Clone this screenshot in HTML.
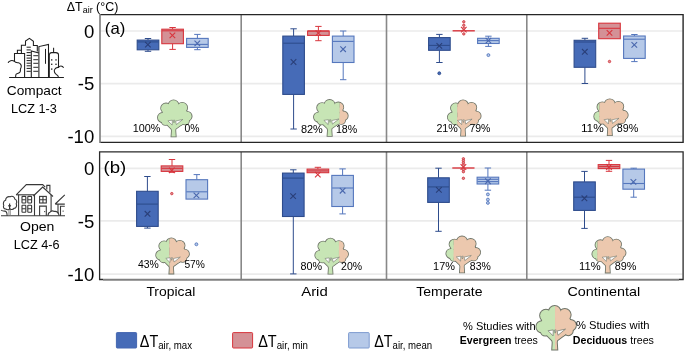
<!DOCTYPE html>
<html><head><meta charset="utf-8"><title>Delta T air chart</title>
<style>html,body{margin:0;padding:0;background:#fff;width:685px;height:351px;overflow:hidden}svg{display:block;will-change:transform}</style>
</head><body>
<svg width="685" height="351" viewBox="0 0 685 351" font-family='"Liberation Sans", sans-serif'>
<rect width="685" height="351" fill="#fff"/>
<line x1="100.5" y1="31.0" x2="682.5" y2="31.0" stroke="#EBEBEB" stroke-width="1.7"/>
<line x1="100.5" y1="83.6" x2="682.5" y2="83.6" stroke="#EBEBEB" stroke-width="1.7"/>
<line x1="100.5" y1="136.4" x2="682.5" y2="136.4" stroke="#EBEBEB" stroke-width="1.7"/>
<line x1="100.5" y1="168.3" x2="682.5" y2="168.3" stroke="#EBEBEB" stroke-width="1.7"/>
<line x1="100.5" y1="220.9" x2="682.5" y2="220.9" stroke="#EBEBEB" stroke-width="1.7"/>
<line x1="100.5" y1="274.2" x2="682.5" y2="274.2" stroke="#EBEBEB" stroke-width="1.7"/>
<line x1="241.2" y1="14.5" x2="241.2" y2="142.3" stroke="#888" stroke-width="1.6"/>
<line x1="241.2" y1="152" x2="241.2" y2="279.5" stroke="#888" stroke-width="1.6"/>
<line x1="386.5" y1="14.5" x2="386.5" y2="142.3" stroke="#888" stroke-width="1.6"/>
<line x1="386.5" y1="152" x2="386.5" y2="279.5" stroke="#888" stroke-width="1.6"/>
<line x1="526.8" y1="14.5" x2="526.8" y2="142.3" stroke="#888" stroke-width="1.6"/>
<line x1="526.8" y1="152" x2="526.8" y2="279.5" stroke="#888" stroke-width="1.6"/>
<line x1="148.0" y1="40.1" x2="148.0" y2="38.5" stroke="#2E4C8C" stroke-width="1"/>
<line x1="144.8" y1="38.5" x2="151.2" y2="38.5" stroke="#2E4C8C" stroke-width="1"/>
<line x1="148.0" y1="49.8" x2="148.0" y2="51.3" stroke="#2E4C8C" stroke-width="1"/>
<line x1="144.8" y1="51.3" x2="151.2" y2="51.3" stroke="#2E4C8C" stroke-width="1"/>
<rect x="137.20" y="40.1" width="21.60" height="9.70" fill="#466BB7" stroke="#2E4C8C" stroke-width="1.1"/>
<line x1="137.50" y1="41.9" x2="158.50" y2="41.9" stroke="#2E4C8C" stroke-width="1.1"/>
<path d="M145.10 41.80L150.70 47.40M145.10 47.40L150.70 41.80" stroke="#2A3F78" stroke-width="1.1" fill="none"/>
<line x1="172.6" y1="29.2" x2="172.6" y2="27.5" stroke="#D8353D" stroke-width="1"/>
<line x1="169.4" y1="27.5" x2="175.79999999999998" y2="27.5" stroke="#D8353D" stroke-width="1"/>
<line x1="172.6" y1="43.7" x2="172.6" y2="49.4" stroke="#D8353D" stroke-width="1"/>
<line x1="169.4" y1="49.4" x2="175.79999999999998" y2="49.4" stroke="#D8353D" stroke-width="1"/>
<rect x="161.80" y="29.2" width="21.60" height="14.50" fill="#D49196" stroke="#D8353D" stroke-width="1.1"/>
<line x1="162.10" y1="30.8" x2="183.10" y2="30.8" stroke="#D8353D" stroke-width="1.1"/>
<path d="M169.60 32.60L175.20 38.20M169.60 38.20L175.20 32.60" stroke="#D8353D" stroke-width="1.1" fill="none"/>
<line x1="197.4" y1="38.4" x2="197.4" y2="34.4" stroke="#5577BD" stroke-width="1"/>
<line x1="194.20000000000002" y1="34.4" x2="200.6" y2="34.4" stroke="#5577BD" stroke-width="1"/>
<line x1="197.4" y1="47.4" x2="197.4" y2="49.7" stroke="#5577BD" stroke-width="1"/>
<line x1="194.20000000000002" y1="49.7" x2="200.6" y2="49.7" stroke="#5577BD" stroke-width="1"/>
<rect x="186.60" y="38.4" width="21.60" height="9.00" fill="#B6C9E8" stroke="#5577BD" stroke-width="1.1"/>
<line x1="186.90" y1="44.4" x2="207.90" y2="44.4" stroke="#5577BD" stroke-width="1.1"/>
<path d="M194.50 40.60L200.10 46.20M194.50 46.20L200.10 40.60" stroke="#4A68AE" stroke-width="1.1" fill="none"/>
<line x1="293.6" y1="36.1" x2="293.6" y2="28.8" stroke="#2E4C8C" stroke-width="1"/>
<line x1="290.40000000000003" y1="28.8" x2="296.8" y2="28.8" stroke="#2E4C8C" stroke-width="1"/>
<line x1="293.6" y1="94.4" x2="293.6" y2="129.0" stroke="#2E4C8C" stroke-width="1"/>
<line x1="290.40000000000003" y1="129.0" x2="296.8" y2="129.0" stroke="#2E4C8C" stroke-width="1"/>
<rect x="282.80" y="36.1" width="21.60" height="58.30" fill="#466BB7" stroke="#2E4C8C" stroke-width="1.1"/>
<line x1="283.10" y1="43.2" x2="304.10" y2="43.2" stroke="#2E4C8C" stroke-width="1.1"/>
<path d="M290.70 59.20L296.30 64.80M290.70 64.80L296.30 59.20" stroke="#2A3F78" stroke-width="1.1" fill="none"/>
<line x1="318.4" y1="31.0" x2="318.4" y2="26.4" stroke="#D8353D" stroke-width="1"/>
<line x1="315.2" y1="26.4" x2="321.59999999999997" y2="26.4" stroke="#D8353D" stroke-width="1"/>
<line x1="318.4" y1="35.4" x2="318.4" y2="40.7" stroke="#D8353D" stroke-width="1"/>
<line x1="315.2" y1="40.7" x2="321.59999999999997" y2="40.7" stroke="#D8353D" stroke-width="1"/>
<rect x="307.60" y="31.0" width="21.60" height="4.40" fill="#D49196" stroke="#D8353D" stroke-width="1.1"/>
<line x1="307.90" y1="31.0" x2="328.90" y2="31.0" stroke="#D8353D" stroke-width="1.1"/>
<path d="M315.60 30.30L321.20 35.90M315.60 35.90L321.20 30.30" stroke="#D8353D" stroke-width="1.1" fill="none"/>
<line x1="343.2" y1="36.1" x2="343.2" y2="31.0" stroke="#5577BD" stroke-width="1"/>
<line x1="340.0" y1="31.0" x2="346.4" y2="31.0" stroke="#5577BD" stroke-width="1"/>
<line x1="343.2" y1="62.5" x2="343.2" y2="79.7" stroke="#5577BD" stroke-width="1"/>
<line x1="340.0" y1="79.7" x2="346.4" y2="79.7" stroke="#5577BD" stroke-width="1"/>
<rect x="332.40" y="36.1" width="21.60" height="26.40" fill="#B6C9E8" stroke="#5577BD" stroke-width="1.1"/>
<line x1="332.70" y1="41.4" x2="353.70" y2="41.4" stroke="#5577BD" stroke-width="1.1"/>
<path d="M340.30 46.40L345.90 52.00M340.30 52.00L345.90 46.40" stroke="#4A68AE" stroke-width="1.1" fill="none"/>
<line x1="439.4" y1="37.6" x2="439.4" y2="34.4" stroke="#2E4C8C" stroke-width="1"/>
<line x1="436.2" y1="34.4" x2="442.59999999999997" y2="34.4" stroke="#2E4C8C" stroke-width="1"/>
<line x1="439.4" y1="50.3" x2="439.4" y2="62.5" stroke="#2E4C8C" stroke-width="1"/>
<line x1="436.2" y1="62.5" x2="442.59999999999997" y2="62.5" stroke="#2E4C8C" stroke-width="1"/>
<rect x="428.60" y="37.6" width="21.60" height="12.70" fill="#466BB7" stroke="#2E4C8C" stroke-width="1.1"/>
<line x1="428.90" y1="45.4" x2="449.90" y2="45.4" stroke="#2E4C8C" stroke-width="1.1"/>
<path d="M436.50 43.10L442.10 48.70M436.50 48.70L442.10 43.10" stroke="#2A3F78" stroke-width="1.1" fill="none"/>
<circle cx="439.3" cy="73.3" r="1.45" fill="#466BB7" stroke="#2E4C8C" stroke-width="0.9"/>
<line x1="452.60" y1="30.8" x2="474.80" y2="30.8" stroke="#D8353D" stroke-width="1.4"/>
<path d="M461.00 26.80L466.60 32.40M461.00 32.40L466.60 26.80" stroke="#D8353D" stroke-width="1.1" fill="none"/>
<circle cx="463.8" cy="21.8" r="1.2" fill="#D49196" stroke="#D8353D" stroke-width="0.9"/>
<circle cx="463.8" cy="25.3" r="1.2" fill="#D49196" stroke="#D8353D" stroke-width="0.9"/>
<circle cx="463.8" cy="28.6" r="1.2" fill="#D49196" stroke="#D8353D" stroke-width="0.9"/>
<circle cx="463.8" cy="33.9" r="1.2" fill="#D49196" stroke="#D8353D" stroke-width="0.9"/>
<line x1="488.4" y1="38.3" x2="488.4" y2="36.2" stroke="#5577BD" stroke-width="1"/>
<line x1="485.2" y1="36.2" x2="491.59999999999997" y2="36.2" stroke="#5577BD" stroke-width="1"/>
<line x1="488.4" y1="43.5" x2="488.4" y2="46.4" stroke="#5577BD" stroke-width="1"/>
<line x1="485.2" y1="46.4" x2="491.59999999999997" y2="46.4" stroke="#5577BD" stroke-width="1"/>
<rect x="477.60" y="38.3" width="21.60" height="5.20" fill="#B6C9E8" stroke="#5577BD" stroke-width="1.1"/>
<line x1="477.90" y1="40.6" x2="498.90" y2="40.6" stroke="#5577BD" stroke-width="1.1"/>
<path d="M485.60 37.80L491.20 43.40M485.60 43.40L491.20 37.80" stroke="#4A68AE" stroke-width="1.1" fill="none"/>
<circle cx="488.4" cy="55.1" r="1.45" fill="#B6C9E8" stroke="#5577BD" stroke-width="0.9"/>
<line x1="584.9" y1="40.3" x2="584.9" y2="38.3" stroke="#2E4C8C" stroke-width="1"/>
<line x1="581.6999999999999" y1="38.3" x2="588.1" y2="38.3" stroke="#2E4C8C" stroke-width="1"/>
<line x1="584.9" y1="67.3" x2="584.9" y2="83.5" stroke="#2E4C8C" stroke-width="1"/>
<line x1="581.6999999999999" y1="83.5" x2="588.1" y2="83.5" stroke="#2E4C8C" stroke-width="1"/>
<rect x="574.10" y="40.3" width="21.60" height="27.00" fill="#466BB7" stroke="#2E4C8C" stroke-width="1.1"/>
<line x1="574.40" y1="42.0" x2="595.40" y2="42.0" stroke="#2E4C8C" stroke-width="1.1"/>
<path d="M582.00 49.00L587.60 54.60M582.00 54.60L587.60 49.00" stroke="#2A3F78" stroke-width="1.1" fill="none"/>
<rect x="598.70" y="23.2" width="21.60" height="15.50" fill="#D49196" stroke="#D8353D" stroke-width="1.1"/>
<line x1="599.00" y1="28.3" x2="620.00" y2="28.3" stroke="#D8353D" stroke-width="1.1"/>
<path d="M606.70 30.10L612.30 35.70M606.70 35.70L612.30 30.10" stroke="#D8353D" stroke-width="1.1" fill="none"/>
<circle cx="609.5" cy="61.5" r="1.2" fill="#D49196" stroke="#D8353D" stroke-width="0.9"/>
<line x1="634.4" y1="36.0" x2="634.4" y2="34.5" stroke="#5577BD" stroke-width="1"/>
<line x1="631.1999999999999" y1="34.5" x2="637.6" y2="34.5" stroke="#5577BD" stroke-width="1"/>
<line x1="634.4" y1="58.4" x2="634.4" y2="61.6" stroke="#5577BD" stroke-width="1"/>
<line x1="631.1999999999999" y1="61.6" x2="637.6" y2="61.6" stroke="#5577BD" stroke-width="1"/>
<rect x="623.60" y="36.0" width="21.60" height="22.40" fill="#B6C9E8" stroke="#5577BD" stroke-width="1.1"/>
<line x1="623.90" y1="39.2" x2="644.90" y2="39.2" stroke="#5577BD" stroke-width="1.1"/>
<path d="M631.50 42.10L637.10 47.70M631.50 47.70L637.10 42.10" stroke="#4A68AE" stroke-width="1.1" fill="none"/>
<line x1="147.4" y1="191.3" x2="147.4" y2="176.5" stroke="#2E4C8C" stroke-width="1"/>
<line x1="144.20000000000002" y1="176.5" x2="150.6" y2="176.5" stroke="#2E4C8C" stroke-width="1"/>
<line x1="147.4" y1="226.4" x2="147.4" y2="228.1" stroke="#2E4C8C" stroke-width="1"/>
<line x1="144.20000000000002" y1="228.1" x2="150.6" y2="228.1" stroke="#2E4C8C" stroke-width="1"/>
<rect x="136.60" y="191.3" width="21.60" height="35.10" fill="#466BB7" stroke="#2E4C8C" stroke-width="1.1"/>
<line x1="136.90" y1="204.1" x2="157.90" y2="204.1" stroke="#2E4C8C" stroke-width="1.1"/>
<path d="M144.70 211.00L150.30 216.60M144.70 216.60L150.30 211.00" stroke="#2A3F78" stroke-width="1.1" fill="none"/>
<line x1="172.0" y1="165.9" x2="172.0" y2="159.5" stroke="#D8353D" stroke-width="1"/>
<line x1="168.8" y1="159.5" x2="175.2" y2="159.5" stroke="#D8353D" stroke-width="1"/>
<line x1="172.0" y1="171.4" x2="172.0" y2="172.3" stroke="#D8353D" stroke-width="1"/>
<line x1="168.8" y1="172.3" x2="175.2" y2="172.3" stroke="#D8353D" stroke-width="1"/>
<rect x="161.20" y="165.9" width="21.60" height="5.50" fill="#D49196" stroke="#D8353D" stroke-width="1.1"/>
<line x1="161.50" y1="168.3" x2="182.50" y2="168.3" stroke="#D8353D" stroke-width="1.1"/>
<path d="M169.00 167.60L174.60 173.20M169.00 173.20L174.60 167.60" stroke="#D8353D" stroke-width="1.1" fill="none"/>
<circle cx="171.8" cy="193.6" r="1.2" fill="#D49196" stroke="#D8353D" stroke-width="0.9"/>
<line x1="196.8" y1="179.7" x2="196.8" y2="174.6" stroke="#5577BD" stroke-width="1"/>
<line x1="193.60000000000002" y1="174.6" x2="200.0" y2="174.6" stroke="#5577BD" stroke-width="1"/>
<rect x="186.00" y="179.7" width="21.60" height="19.40" fill="#B6C9E8" stroke="#5577BD" stroke-width="1.1"/>
<line x1="186.30" y1="191.8" x2="207.30" y2="191.8" stroke="#5577BD" stroke-width="1.1"/>
<path d="M193.60 192.60L199.20 198.20M193.60 198.20L199.20 192.60" stroke="#4A68AE" stroke-width="1.1" fill="none"/>
<circle cx="196.4" cy="244.3" r="1.45" fill="#B6C9E8" stroke="#5577BD" stroke-width="0.9"/>
<line x1="293.3" y1="173.1" x2="293.3" y2="169.8" stroke="#2E4C8C" stroke-width="1"/>
<line x1="290.1" y1="169.8" x2="296.5" y2="169.8" stroke="#2E4C8C" stroke-width="1"/>
<line x1="293.3" y1="216.5" x2="293.3" y2="273.9" stroke="#2E4C8C" stroke-width="1"/>
<line x1="290.1" y1="273.9" x2="296.5" y2="273.9" stroke="#2E4C8C" stroke-width="1"/>
<rect x="282.50" y="173.1" width="21.60" height="43.40" fill="#466BB7" stroke="#2E4C8C" stroke-width="1.1"/>
<line x1="282.80" y1="178.1" x2="303.80" y2="178.1" stroke="#2E4C8C" stroke-width="1.1"/>
<path d="M290.30 193.30L295.90 198.90M290.30 198.90L295.90 193.30" stroke="#2A3F78" stroke-width="1.1" fill="none"/>
<line x1="317.9" y1="169.1" x2="317.9" y2="167.3" stroke="#D8353D" stroke-width="1"/>
<line x1="314.7" y1="167.3" x2="321.09999999999997" y2="167.3" stroke="#D8353D" stroke-width="1"/>
<rect x="307.10" y="169.1" width="21.60" height="3.60" fill="#D49196" stroke="#D8353D" stroke-width="1.1"/>
<line x1="307.40" y1="170.9" x2="328.40" y2="170.9" stroke="#D8353D" stroke-width="1.1"/>
<path d="M315.00 171.80L320.60 177.40M315.00 177.40L320.60 171.80" stroke="#D8353D" stroke-width="1.1" fill="none"/>
<line x1="342.6" y1="175.4" x2="342.6" y2="168.9" stroke="#5577BD" stroke-width="1"/>
<line x1="339.40000000000003" y1="168.9" x2="345.8" y2="168.9" stroke="#5577BD" stroke-width="1"/>
<line x1="342.6" y1="206.5" x2="342.6" y2="213.9" stroke="#5577BD" stroke-width="1"/>
<line x1="339.40000000000003" y1="213.9" x2="345.8" y2="213.9" stroke="#5577BD" stroke-width="1"/>
<rect x="331.80" y="175.4" width="21.60" height="31.10" fill="#B6C9E8" stroke="#5577BD" stroke-width="1.1"/>
<line x1="332.10" y1="188.0" x2="353.10" y2="188.0" stroke="#5577BD" stroke-width="1.1"/>
<path d="M339.80 187.90L345.40 193.50M339.80 193.50L345.40 187.90" stroke="#4A68AE" stroke-width="1.1" fill="none"/>
<line x1="438.5" y1="177.8" x2="438.5" y2="168.2" stroke="#2E4C8C" stroke-width="1"/>
<line x1="435.3" y1="168.2" x2="441.7" y2="168.2" stroke="#2E4C8C" stroke-width="1"/>
<line x1="438.5" y1="202.4" x2="438.5" y2="231.3" stroke="#2E4C8C" stroke-width="1"/>
<line x1="435.3" y1="231.3" x2="441.7" y2="231.3" stroke="#2E4C8C" stroke-width="1"/>
<rect x="427.70" y="177.8" width="21.60" height="24.60" fill="#466BB7" stroke="#2E4C8C" stroke-width="1.1"/>
<line x1="428.00" y1="186.9" x2="449.00" y2="186.9" stroke="#2E4C8C" stroke-width="1.1"/>
<path d="M436.10 187.10L441.70 192.70M436.10 192.70L441.70 187.10" stroke="#2A3F78" stroke-width="1.1" fill="none"/>
<line x1="452.30" y1="168.0" x2="474.50" y2="168.0" stroke="#D8353D" stroke-width="1.4"/>
<path d="M460.60 164.20L466.20 169.80M460.60 169.80L466.20 164.20" stroke="#D8353D" stroke-width="1.1" fill="none"/>
<circle cx="463.4" cy="158.8" r="1.2" fill="#D49196" stroke="#D8353D" stroke-width="0.9"/>
<circle cx="463.4" cy="160.7" r="1.2" fill="#D49196" stroke="#D8353D" stroke-width="0.9"/>
<circle cx="463.4" cy="162.8" r="1.2" fill="#D49196" stroke="#D8353D" stroke-width="0.9"/>
<circle cx="463.4" cy="165.3" r="1.2" fill="#D49196" stroke="#D8353D" stroke-width="0.9"/>
<circle cx="463.4" cy="169.6" r="1.2" fill="#D49196" stroke="#D8353D" stroke-width="0.9"/>
<circle cx="463.4" cy="171.7" r="1.2" fill="#D49196" stroke="#D8353D" stroke-width="0.9"/>
<circle cx="463.4" cy="178.3" r="1.2" fill="#D49196" stroke="#D8353D" stroke-width="0.9"/>
<line x1="487.9" y1="177.2" x2="487.9" y2="168.0" stroke="#5577BD" stroke-width="1"/>
<line x1="484.7" y1="168.0" x2="491.09999999999997" y2="168.0" stroke="#5577BD" stroke-width="1"/>
<line x1="487.9" y1="184.0" x2="487.9" y2="190.2" stroke="#5577BD" stroke-width="1"/>
<line x1="484.7" y1="190.2" x2="491.09999999999997" y2="190.2" stroke="#5577BD" stroke-width="1"/>
<rect x="477.10" y="177.2" width="21.60" height="6.80" fill="#B6C9E8" stroke="#5577BD" stroke-width="1.1"/>
<line x1="477.40" y1="181.6" x2="498.40" y2="181.6" stroke="#5577BD" stroke-width="1.1"/>
<line x1="477.40" y1="179.3" x2="498.40" y2="179.3" stroke="#5577BD" stroke-width="1.1"/>
<path d="M485.10 178.40L490.70 184.00M485.10 184.00L490.70 178.40" stroke="#4A68AE" stroke-width="1.1" fill="none"/>
<circle cx="487.9" cy="194.4" r="1.45" fill="#B6C9E8" stroke="#5577BD" stroke-width="0.9"/>
<circle cx="487.9" cy="199.6" r="1.45" fill="#B6C9E8" stroke="#5577BD" stroke-width="0.9"/>
<circle cx="487.9" cy="202.9" r="1.45" fill="#B6C9E8" stroke="#5577BD" stroke-width="0.9"/>
<line x1="584.5" y1="181.9" x2="584.5" y2="171.4" stroke="#2E4C8C" stroke-width="1"/>
<line x1="581.3" y1="171.4" x2="587.7" y2="171.4" stroke="#2E4C8C" stroke-width="1"/>
<line x1="584.5" y1="210.4" x2="584.5" y2="228.4" stroke="#2E4C8C" stroke-width="1"/>
<line x1="581.3" y1="228.4" x2="587.7" y2="228.4" stroke="#2E4C8C" stroke-width="1"/>
<rect x="573.70" y="181.9" width="21.60" height="28.50" fill="#466BB7" stroke="#2E4C8C" stroke-width="1.1"/>
<line x1="574.00" y1="197.2" x2="595.00" y2="197.2" stroke="#2E4C8C" stroke-width="1.1"/>
<path d="M581.60 195.50L587.20 201.10M581.60 201.10L587.20 195.50" stroke="#2A3F78" stroke-width="1.1" fill="none"/>
<line x1="609.0" y1="164.6" x2="609.0" y2="160.4" stroke="#D8353D" stroke-width="1"/>
<line x1="605.8" y1="160.4" x2="612.2" y2="160.4" stroke="#D8353D" stroke-width="1"/>
<line x1="609.0" y1="168.6" x2="609.0" y2="171.3" stroke="#D8353D" stroke-width="1"/>
<line x1="605.8" y1="171.3" x2="612.2" y2="171.3" stroke="#D8353D" stroke-width="1"/>
<rect x="598.20" y="164.6" width="21.60" height="4.00" fill="#D49196" stroke="#D8353D" stroke-width="1.1"/>
<line x1="598.50" y1="166.6" x2="619.50" y2="166.6" stroke="#D8353D" stroke-width="1.1"/>
<path d="M606.20 164.20L611.80 169.80M606.20 169.80L611.80 164.20" stroke="#D8353D" stroke-width="1.1" fill="none"/>
<line x1="633.7" y1="169.1" x2="633.7" y2="168.2" stroke="#5577BD" stroke-width="1"/>
<line x1="630.5" y1="168.2" x2="636.9000000000001" y2="168.2" stroke="#5577BD" stroke-width="1"/>
<line x1="633.7" y1="189.2" x2="633.7" y2="197.2" stroke="#5577BD" stroke-width="1"/>
<line x1="630.5" y1="197.2" x2="636.9000000000001" y2="197.2" stroke="#5577BD" stroke-width="1"/>
<rect x="622.90" y="169.1" width="21.60" height="20.10" fill="#B6C9E8" stroke="#5577BD" stroke-width="1.1"/>
<line x1="623.20" y1="183.5" x2="644.20" y2="183.5" stroke="#5577BD" stroke-width="1.1"/>
<path d="M630.60 179.10L636.20 184.70M630.60 184.70L636.20 179.10" stroke="#4A68AE" stroke-width="1.1" fill="none"/>
<g transform="translate(157.9,100.3) scale(0.9971,0.9678)">
<clipPath id="tl0"><rect x="-5" y="-5" width="39.00" height="50"/></clipPath>
<clipPath id="tr0"><rect x="34.00" y="-5" width="50" height="50"/></clipPath>
<g fill="#6E7468" stroke="#6E7468" stroke-width="1.7"><circle cx="4.8" cy="17.8" r="4.8"/><circle cx="7.6" cy="21.6" r="3.8"/><circle cx="8.2" cy="8.2" r="5.0"/><circle cx="15.7" cy="5.0" r="5.0"/><circle cx="24.4" cy="7.6" r="5.0"/><circle cx="29.3" cy="16.5" r="4.6"/><circle cx="27.4" cy="21.2" r="3.8"/><circle cx="12" cy="21.5" r="4"/><circle cx="22" cy="21.5" r="4"/><ellipse cx="17.0" cy="14.5" rx="12.5" ry="9.0"/><path d="M13.6 37.3 L14.0 31.2 L13.6 29.6 L9.0 25.0 L12 23 L15 23 L19 23 L23 23 L24.6 24.4 L17.7 29.6 L17.5 31.2 L17.9 37.3 Z"/></g>
<g fill="#C7E5B5" clip-path="url(#tl0)"><circle cx="4.8" cy="17.8" r="4.8"/><circle cx="7.6" cy="21.6" r="3.8"/><circle cx="8.2" cy="8.2" r="5.0"/><circle cx="15.7" cy="5.0" r="5.0"/><circle cx="24.4" cy="7.6" r="5.0"/><circle cx="29.3" cy="16.5" r="4.6"/><circle cx="27.4" cy="21.2" r="3.8"/><circle cx="12" cy="21.5" r="4"/><circle cx="22" cy="21.5" r="4"/><ellipse cx="17.0" cy="14.5" rx="12.5" ry="9.0"/><path d="M13.6 37.3 L14.0 31.2 L13.6 29.6 L9.0 25.0 L12 23 L15 23 L19 23 L23 23 L24.6 24.4 L17.7 29.6 L17.5 31.2 L17.9 37.3 Z"/></g>
<g fill="#ECC8AE" clip-path="url(#tr0)"><circle cx="4.8" cy="17.8" r="4.8"/><circle cx="7.6" cy="21.6" r="3.8"/><circle cx="8.2" cy="8.2" r="5.0"/><circle cx="15.7" cy="5.0" r="5.0"/><circle cx="24.4" cy="7.6" r="5.0"/><circle cx="29.3" cy="16.5" r="4.6"/><circle cx="27.4" cy="21.2" r="3.8"/><circle cx="12" cy="21.5" r="4"/><circle cx="22" cy="21.5" r="4"/><ellipse cx="17.0" cy="14.5" rx="12.5" ry="9.0"/><path d="M13.6 37.3 L14.0 31.2 L13.6 29.6 L9.0 25.0 L12 23 L15 23 L19 23 L23 23 L24.6 24.4 L17.7 29.6 L17.5 31.2 L17.9 37.3 Z"/></g>
<path d="M10.0 21.2 L14.5 20.5 L14.3 25.6 Z" fill="#fff" stroke="#6E7468" stroke-width="0.6"/>
<path d="M15.4 20.7 L16.9 20.5 L16.1 23.3 Z" fill="#fff" stroke="#6E7468" stroke-width="0.6"/>
<path d="M17.8 21.4 L25.0 19.8 L18.5 25.1 Z" fill="#fff" stroke="#6E7468" stroke-width="0.6"/>
</g>
<g transform="translate(313.9,99.9) scale(1.0000,0.9651)">
<clipPath id="tl1"><rect x="-5" y="-5" width="30.84" height="50"/></clipPath>
<clipPath id="tr1"><rect x="25.84" y="-5" width="50" height="50"/></clipPath>
<g fill="#6E7468" stroke="#6E7468" stroke-width="1.7"><circle cx="4.8" cy="17.8" r="4.8"/><circle cx="7.6" cy="21.6" r="3.8"/><circle cx="8.2" cy="8.2" r="5.0"/><circle cx="15.7" cy="5.0" r="5.0"/><circle cx="24.4" cy="7.6" r="5.0"/><circle cx="29.3" cy="16.5" r="4.6"/><circle cx="27.4" cy="21.2" r="3.8"/><circle cx="12" cy="21.5" r="4"/><circle cx="22" cy="21.5" r="4"/><ellipse cx="17.0" cy="14.5" rx="12.5" ry="9.0"/><path d="M13.6 37.3 L14.0 31.2 L13.6 29.6 L9.0 25.0 L12 23 L15 23 L19 23 L23 23 L24.6 24.4 L17.7 29.6 L17.5 31.2 L17.9 37.3 Z"/></g>
<g fill="#C7E5B5" clip-path="url(#tl1)"><circle cx="4.8" cy="17.8" r="4.8"/><circle cx="7.6" cy="21.6" r="3.8"/><circle cx="8.2" cy="8.2" r="5.0"/><circle cx="15.7" cy="5.0" r="5.0"/><circle cx="24.4" cy="7.6" r="5.0"/><circle cx="29.3" cy="16.5" r="4.6"/><circle cx="27.4" cy="21.2" r="3.8"/><circle cx="12" cy="21.5" r="4"/><circle cx="22" cy="21.5" r="4"/><ellipse cx="17.0" cy="14.5" rx="12.5" ry="9.0"/><path d="M13.6 37.3 L14.0 31.2 L13.6 29.6 L9.0 25.0 L12 23 L15 23 L19 23 L23 23 L24.6 24.4 L17.7 29.6 L17.5 31.2 L17.9 37.3 Z"/></g>
<g fill="#ECC8AE" clip-path="url(#tr1)"><circle cx="4.8" cy="17.8" r="4.8"/><circle cx="7.6" cy="21.6" r="3.8"/><circle cx="8.2" cy="8.2" r="5.0"/><circle cx="15.7" cy="5.0" r="5.0"/><circle cx="24.4" cy="7.6" r="5.0"/><circle cx="29.3" cy="16.5" r="4.6"/><circle cx="27.4" cy="21.2" r="3.8"/><circle cx="12" cy="21.5" r="4"/><circle cx="22" cy="21.5" r="4"/><ellipse cx="17.0" cy="14.5" rx="12.5" ry="9.0"/><path d="M13.6 37.3 L14.0 31.2 L13.6 29.6 L9.0 25.0 L12 23 L15 23 L19 23 L23 23 L24.6 24.4 L17.7 29.6 L17.5 31.2 L17.9 37.3 Z"/></g>
<path d="M10.0 21.2 L14.5 20.5 L14.3 25.6 Z" fill="#fff" stroke="#6E7468" stroke-width="0.6"/>
<path d="M15.4 20.7 L16.9 20.5 L16.1 23.3 Z" fill="#fff" stroke="#6E7468" stroke-width="0.6"/>
<path d="M17.8 21.4 L25.0 19.8 L18.5 25.1 Z" fill="#fff" stroke="#6E7468" stroke-width="0.6"/>
</g>
<g transform="translate(447.8,100.3) scale(0.9706,0.9491)">
<clipPath id="tl2"><rect x="-5" y="-5" width="14.86" height="50"/></clipPath>
<clipPath id="tr2"><rect x="9.86" y="-5" width="50" height="50"/></clipPath>
<g fill="#6E7468" stroke="#6E7468" stroke-width="1.7"><circle cx="4.8" cy="17.8" r="4.8"/><circle cx="7.6" cy="21.6" r="3.8"/><circle cx="8.2" cy="8.2" r="5.0"/><circle cx="15.7" cy="5.0" r="5.0"/><circle cx="24.4" cy="7.6" r="5.0"/><circle cx="29.3" cy="16.5" r="4.6"/><circle cx="27.4" cy="21.2" r="3.8"/><circle cx="12" cy="21.5" r="4"/><circle cx="22" cy="21.5" r="4"/><ellipse cx="17.0" cy="14.5" rx="12.5" ry="9.0"/><path d="M13.6 37.3 L14.0 31.2 L13.6 29.6 L9.0 25.0 L12 23 L15 23 L19 23 L23 23 L24.6 24.4 L17.7 29.6 L17.5 31.2 L17.9 37.3 Z"/></g>
<g fill="#C7E5B5" clip-path="url(#tl2)"><circle cx="4.8" cy="17.8" r="4.8"/><circle cx="7.6" cy="21.6" r="3.8"/><circle cx="8.2" cy="8.2" r="5.0"/><circle cx="15.7" cy="5.0" r="5.0"/><circle cx="24.4" cy="7.6" r="5.0"/><circle cx="29.3" cy="16.5" r="4.6"/><circle cx="27.4" cy="21.2" r="3.8"/><circle cx="12" cy="21.5" r="4"/><circle cx="22" cy="21.5" r="4"/><ellipse cx="17.0" cy="14.5" rx="12.5" ry="9.0"/><path d="M13.6 37.3 L14.0 31.2 L13.6 29.6 L9.0 25.0 L12 23 L15 23 L19 23 L23 23 L24.6 24.4 L17.7 29.6 L17.5 31.2 L17.9 37.3 Z"/></g>
<g fill="#ECC8AE" clip-path="url(#tr2)"><circle cx="4.8" cy="17.8" r="4.8"/><circle cx="7.6" cy="21.6" r="3.8"/><circle cx="8.2" cy="8.2" r="5.0"/><circle cx="15.7" cy="5.0" r="5.0"/><circle cx="24.4" cy="7.6" r="5.0"/><circle cx="29.3" cy="16.5" r="4.6"/><circle cx="27.4" cy="21.2" r="3.8"/><circle cx="12" cy="21.5" r="4"/><circle cx="22" cy="21.5" r="4"/><ellipse cx="17.0" cy="14.5" rx="12.5" ry="9.0"/><path d="M13.6 37.3 L14.0 31.2 L13.6 29.6 L9.0 25.0 L12 23 L15 23 L19 23 L23 23 L24.6 24.4 L17.7 29.6 L17.5 31.2 L17.9 37.3 Z"/></g>
<path d="M10.0 21.2 L14.5 20.5 L14.3 25.6 Z" fill="#fff" stroke="#6E7468" stroke-width="0.6"/>
<path d="M15.4 20.7 L16.9 20.5 L16.1 23.3 Z" fill="#fff" stroke="#6E7468" stroke-width="0.6"/>
<path d="M17.8 21.4 L25.0 19.8 L18.5 25.1 Z" fill="#fff" stroke="#6E7468" stroke-width="0.6"/>
</g>
<g transform="translate(594.2,99.2) scale(0.9912,0.9651)">
<clipPath id="tl3"><rect x="-5" y="-5" width="10.27" height="50"/></clipPath>
<clipPath id="tr3"><rect x="5.27" y="-5" width="50" height="50"/></clipPath>
<g fill="#6E7468" stroke="#6E7468" stroke-width="1.7"><circle cx="4.8" cy="17.8" r="4.8"/><circle cx="7.6" cy="21.6" r="3.8"/><circle cx="8.2" cy="8.2" r="5.0"/><circle cx="15.7" cy="5.0" r="5.0"/><circle cx="24.4" cy="7.6" r="5.0"/><circle cx="29.3" cy="16.5" r="4.6"/><circle cx="27.4" cy="21.2" r="3.8"/><circle cx="12" cy="21.5" r="4"/><circle cx="22" cy="21.5" r="4"/><ellipse cx="17.0" cy="14.5" rx="12.5" ry="9.0"/><path d="M13.6 37.3 L14.0 31.2 L13.6 29.6 L9.0 25.0 L12 23 L15 23 L19 23 L23 23 L24.6 24.4 L17.7 29.6 L17.5 31.2 L17.9 37.3 Z"/></g>
<g fill="#C7E5B5" clip-path="url(#tl3)"><circle cx="4.8" cy="17.8" r="4.8"/><circle cx="7.6" cy="21.6" r="3.8"/><circle cx="8.2" cy="8.2" r="5.0"/><circle cx="15.7" cy="5.0" r="5.0"/><circle cx="24.4" cy="7.6" r="5.0"/><circle cx="29.3" cy="16.5" r="4.6"/><circle cx="27.4" cy="21.2" r="3.8"/><circle cx="12" cy="21.5" r="4"/><circle cx="22" cy="21.5" r="4"/><ellipse cx="17.0" cy="14.5" rx="12.5" ry="9.0"/><path d="M13.6 37.3 L14.0 31.2 L13.6 29.6 L9.0 25.0 L12 23 L15 23 L19 23 L23 23 L24.6 24.4 L17.7 29.6 L17.5 31.2 L17.9 37.3 Z"/></g>
<g fill="#ECC8AE" clip-path="url(#tr3)"><circle cx="4.8" cy="17.8" r="4.8"/><circle cx="7.6" cy="21.6" r="3.8"/><circle cx="8.2" cy="8.2" r="5.0"/><circle cx="15.7" cy="5.0" r="5.0"/><circle cx="24.4" cy="7.6" r="5.0"/><circle cx="29.3" cy="16.5" r="4.6"/><circle cx="27.4" cy="21.2" r="3.8"/><circle cx="12" cy="21.5" r="4"/><circle cx="22" cy="21.5" r="4"/><ellipse cx="17.0" cy="14.5" rx="12.5" ry="9.0"/><path d="M13.6 37.3 L14.0 31.2 L13.6 29.6 L9.0 25.0 L12 23 L15 23 L19 23 L23 23 L24.6 24.4 L17.7 29.6 L17.5 31.2 L17.9 37.3 Z"/></g>
<path d="M10.0 21.2 L14.5 20.5 L14.3 25.6 Z" fill="#fff" stroke="#6E7468" stroke-width="0.6"/>
<path d="M15.4 20.7 L16.9 20.5 L16.1 23.3 Z" fill="#fff" stroke="#6E7468" stroke-width="0.6"/>
<path d="M17.8 21.4 L25.0 19.8 L18.5 25.1 Z" fill="#fff" stroke="#6E7468" stroke-width="0.6"/>
</g>
<g transform="translate(156.1,238.3) scale(0.9706,0.9464)">
<clipPath id="tl4"><rect x="-5" y="-5" width="18.60" height="50"/></clipPath>
<clipPath id="tr4"><rect x="13.60" y="-5" width="50" height="50"/></clipPath>
<g fill="#6E7468" stroke="#6E7468" stroke-width="1.7"><circle cx="4.8" cy="17.8" r="4.8"/><circle cx="7.6" cy="21.6" r="3.8"/><circle cx="8.2" cy="8.2" r="5.0"/><circle cx="15.7" cy="5.0" r="5.0"/><circle cx="24.4" cy="7.6" r="5.0"/><circle cx="29.3" cy="16.5" r="4.6"/><circle cx="27.4" cy="21.2" r="3.8"/><circle cx="12" cy="21.5" r="4"/><circle cx="22" cy="21.5" r="4"/><ellipse cx="17.0" cy="14.5" rx="12.5" ry="9.0"/><path d="M13.6 37.3 L14.0 31.2 L13.6 29.6 L9.0 25.0 L12 23 L15 23 L19 23 L23 23 L24.6 24.4 L17.7 29.6 L17.5 31.2 L17.9 37.3 Z"/></g>
<g fill="#C7E5B5" clip-path="url(#tl4)"><circle cx="4.8" cy="17.8" r="4.8"/><circle cx="7.6" cy="21.6" r="3.8"/><circle cx="8.2" cy="8.2" r="5.0"/><circle cx="15.7" cy="5.0" r="5.0"/><circle cx="24.4" cy="7.6" r="5.0"/><circle cx="29.3" cy="16.5" r="4.6"/><circle cx="27.4" cy="21.2" r="3.8"/><circle cx="12" cy="21.5" r="4"/><circle cx="22" cy="21.5" r="4"/><ellipse cx="17.0" cy="14.5" rx="12.5" ry="9.0"/><path d="M13.6 37.3 L14.0 31.2 L13.6 29.6 L9.0 25.0 L12 23 L15 23 L19 23 L23 23 L24.6 24.4 L17.7 29.6 L17.5 31.2 L17.9 37.3 Z"/></g>
<g fill="#ECC8AE" clip-path="url(#tr4)"><circle cx="4.8" cy="17.8" r="4.8"/><circle cx="7.6" cy="21.6" r="3.8"/><circle cx="8.2" cy="8.2" r="5.0"/><circle cx="15.7" cy="5.0" r="5.0"/><circle cx="24.4" cy="7.6" r="5.0"/><circle cx="29.3" cy="16.5" r="4.6"/><circle cx="27.4" cy="21.2" r="3.8"/><circle cx="12" cy="21.5" r="4"/><circle cx="22" cy="21.5" r="4"/><ellipse cx="17.0" cy="14.5" rx="12.5" ry="9.0"/><path d="M13.6 37.3 L14.0 31.2 L13.6 29.6 L9.0 25.0 L12 23 L15 23 L19 23 L23 23 L24.6 24.4 L17.7 29.6 L17.5 31.2 L17.9 37.3 Z"/></g>
<path d="M10.0 21.2 L14.5 20.5 L14.3 25.6 Z" fill="#fff" stroke="#6E7468" stroke-width="0.6"/>
<path d="M15.4 20.7 L16.9 20.5 L16.1 23.3 Z" fill="#fff" stroke="#6E7468" stroke-width="0.6"/>
<path d="M17.8 21.4 L25.0 19.8 L18.5 25.1 Z" fill="#fff" stroke="#6E7468" stroke-width="0.6"/>
</g>
<g transform="translate(315.2,238.5) scale(0.9706,0.9437)">
<clipPath id="tl5"><rect x="-5" y="-5" width="29.48" height="50"/></clipPath>
<clipPath id="tr5"><rect x="24.48" y="-5" width="50" height="50"/></clipPath>
<g fill="#6E7468" stroke="#6E7468" stroke-width="1.7"><circle cx="4.8" cy="17.8" r="4.8"/><circle cx="7.6" cy="21.6" r="3.8"/><circle cx="8.2" cy="8.2" r="5.0"/><circle cx="15.7" cy="5.0" r="5.0"/><circle cx="24.4" cy="7.6" r="5.0"/><circle cx="29.3" cy="16.5" r="4.6"/><circle cx="27.4" cy="21.2" r="3.8"/><circle cx="12" cy="21.5" r="4"/><circle cx="22" cy="21.5" r="4"/><ellipse cx="17.0" cy="14.5" rx="12.5" ry="9.0"/><path d="M13.6 37.3 L14.0 31.2 L13.6 29.6 L9.0 25.0 L12 23 L15 23 L19 23 L23 23 L24.6 24.4 L17.7 29.6 L17.5 31.2 L17.9 37.3 Z"/></g>
<g fill="#C7E5B5" clip-path="url(#tl5)"><circle cx="4.8" cy="17.8" r="4.8"/><circle cx="7.6" cy="21.6" r="3.8"/><circle cx="8.2" cy="8.2" r="5.0"/><circle cx="15.7" cy="5.0" r="5.0"/><circle cx="24.4" cy="7.6" r="5.0"/><circle cx="29.3" cy="16.5" r="4.6"/><circle cx="27.4" cy="21.2" r="3.8"/><circle cx="12" cy="21.5" r="4"/><circle cx="22" cy="21.5" r="4"/><ellipse cx="17.0" cy="14.5" rx="12.5" ry="9.0"/><path d="M13.6 37.3 L14.0 31.2 L13.6 29.6 L9.0 25.0 L12 23 L15 23 L19 23 L23 23 L24.6 24.4 L17.7 29.6 L17.5 31.2 L17.9 37.3 Z"/></g>
<g fill="#ECC8AE" clip-path="url(#tr5)"><circle cx="4.8" cy="17.8" r="4.8"/><circle cx="7.6" cy="21.6" r="3.8"/><circle cx="8.2" cy="8.2" r="5.0"/><circle cx="15.7" cy="5.0" r="5.0"/><circle cx="24.4" cy="7.6" r="5.0"/><circle cx="29.3" cy="16.5" r="4.6"/><circle cx="27.4" cy="21.2" r="3.8"/><circle cx="12" cy="21.5" r="4"/><circle cx="22" cy="21.5" r="4"/><ellipse cx="17.0" cy="14.5" rx="12.5" ry="9.0"/><path d="M13.6 37.3 L14.0 31.2 L13.6 29.6 L9.0 25.0 L12 23 L15 23 L19 23 L23 23 L24.6 24.4 L17.7 29.6 L17.5 31.2 L17.9 37.3 Z"/></g>
<path d="M10.0 21.2 L14.5 20.5 L14.3 25.6 Z" fill="#fff" stroke="#6E7468" stroke-width="0.6"/>
<path d="M15.4 20.7 L16.9 20.5 L16.1 23.3 Z" fill="#fff" stroke="#6E7468" stroke-width="0.6"/>
<path d="M17.8 21.4 L25.0 19.8 L18.5 25.1 Z" fill="#fff" stroke="#6E7468" stroke-width="0.6"/>
</g>
<g transform="translate(446.3,236.4) scale(1.0000,0.9651)">
<clipPath id="tl6"><rect x="-5" y="-5" width="12.48" height="50"/></clipPath>
<clipPath id="tr6"><rect x="7.48" y="-5" width="50" height="50"/></clipPath>
<g fill="#6E7468" stroke="#6E7468" stroke-width="1.7"><circle cx="4.8" cy="17.8" r="4.8"/><circle cx="7.6" cy="21.6" r="3.8"/><circle cx="8.2" cy="8.2" r="5.0"/><circle cx="15.7" cy="5.0" r="5.0"/><circle cx="24.4" cy="7.6" r="5.0"/><circle cx="29.3" cy="16.5" r="4.6"/><circle cx="27.4" cy="21.2" r="3.8"/><circle cx="12" cy="21.5" r="4"/><circle cx="22" cy="21.5" r="4"/><ellipse cx="17.0" cy="14.5" rx="12.5" ry="9.0"/><path d="M13.6 37.3 L14.0 31.2 L13.6 29.6 L9.0 25.0 L12 23 L15 23 L19 23 L23 23 L24.6 24.4 L17.7 29.6 L17.5 31.2 L17.9 37.3 Z"/></g>
<g fill="#C7E5B5" clip-path="url(#tl6)"><circle cx="4.8" cy="17.8" r="4.8"/><circle cx="7.6" cy="21.6" r="3.8"/><circle cx="8.2" cy="8.2" r="5.0"/><circle cx="15.7" cy="5.0" r="5.0"/><circle cx="24.4" cy="7.6" r="5.0"/><circle cx="29.3" cy="16.5" r="4.6"/><circle cx="27.4" cy="21.2" r="3.8"/><circle cx="12" cy="21.5" r="4"/><circle cx="22" cy="21.5" r="4"/><ellipse cx="17.0" cy="14.5" rx="12.5" ry="9.0"/><path d="M13.6 37.3 L14.0 31.2 L13.6 29.6 L9.0 25.0 L12 23 L15 23 L19 23 L23 23 L24.6 24.4 L17.7 29.6 L17.5 31.2 L17.9 37.3 Z"/></g>
<g fill="#ECC8AE" clip-path="url(#tr6)"><circle cx="4.8" cy="17.8" r="4.8"/><circle cx="7.6" cy="21.6" r="3.8"/><circle cx="8.2" cy="8.2" r="5.0"/><circle cx="15.7" cy="5.0" r="5.0"/><circle cx="24.4" cy="7.6" r="5.0"/><circle cx="29.3" cy="16.5" r="4.6"/><circle cx="27.4" cy="21.2" r="3.8"/><circle cx="12" cy="21.5" r="4"/><circle cx="22" cy="21.5" r="4"/><ellipse cx="17.0" cy="14.5" rx="12.5" ry="9.0"/><path d="M13.6 37.3 L14.0 31.2 L13.6 29.6 L9.0 25.0 L12 23 L15 23 L19 23 L23 23 L24.6 24.4 L17.7 29.6 L17.5 31.2 L17.9 37.3 Z"/></g>
<path d="M10.0 21.2 L14.5 20.5 L14.3 25.6 Z" fill="#fff" stroke="#6E7468" stroke-width="0.6"/>
<path d="M15.4 20.7 L16.9 20.5 L16.1 23.3 Z" fill="#fff" stroke="#6E7468" stroke-width="0.6"/>
<path d="M17.8 21.4 L25.0 19.8 L18.5 25.1 Z" fill="#fff" stroke="#6E7468" stroke-width="0.6"/>
</g>
<g transform="translate(592.3,237.1) scale(0.9824,0.9517)">
<clipPath id="tl7"><rect x="-5" y="-5" width="10.27" height="50"/></clipPath>
<clipPath id="tr7"><rect x="5.27" y="-5" width="50" height="50"/></clipPath>
<g fill="#6E7468" stroke="#6E7468" stroke-width="1.7"><circle cx="4.8" cy="17.8" r="4.8"/><circle cx="7.6" cy="21.6" r="3.8"/><circle cx="8.2" cy="8.2" r="5.0"/><circle cx="15.7" cy="5.0" r="5.0"/><circle cx="24.4" cy="7.6" r="5.0"/><circle cx="29.3" cy="16.5" r="4.6"/><circle cx="27.4" cy="21.2" r="3.8"/><circle cx="12" cy="21.5" r="4"/><circle cx="22" cy="21.5" r="4"/><ellipse cx="17.0" cy="14.5" rx="12.5" ry="9.0"/><path d="M13.6 37.3 L14.0 31.2 L13.6 29.6 L9.0 25.0 L12 23 L15 23 L19 23 L23 23 L24.6 24.4 L17.7 29.6 L17.5 31.2 L17.9 37.3 Z"/></g>
<g fill="#C7E5B5" clip-path="url(#tl7)"><circle cx="4.8" cy="17.8" r="4.8"/><circle cx="7.6" cy="21.6" r="3.8"/><circle cx="8.2" cy="8.2" r="5.0"/><circle cx="15.7" cy="5.0" r="5.0"/><circle cx="24.4" cy="7.6" r="5.0"/><circle cx="29.3" cy="16.5" r="4.6"/><circle cx="27.4" cy="21.2" r="3.8"/><circle cx="12" cy="21.5" r="4"/><circle cx="22" cy="21.5" r="4"/><ellipse cx="17.0" cy="14.5" rx="12.5" ry="9.0"/><path d="M13.6 37.3 L14.0 31.2 L13.6 29.6 L9.0 25.0 L12 23 L15 23 L19 23 L23 23 L24.6 24.4 L17.7 29.6 L17.5 31.2 L17.9 37.3 Z"/></g>
<g fill="#ECC8AE" clip-path="url(#tr7)"><circle cx="4.8" cy="17.8" r="4.8"/><circle cx="7.6" cy="21.6" r="3.8"/><circle cx="8.2" cy="8.2" r="5.0"/><circle cx="15.7" cy="5.0" r="5.0"/><circle cx="24.4" cy="7.6" r="5.0"/><circle cx="29.3" cy="16.5" r="4.6"/><circle cx="27.4" cy="21.2" r="3.8"/><circle cx="12" cy="21.5" r="4"/><circle cx="22" cy="21.5" r="4"/><ellipse cx="17.0" cy="14.5" rx="12.5" ry="9.0"/><path d="M13.6 37.3 L14.0 31.2 L13.6 29.6 L9.0 25.0 L12 23 L15 23 L19 23 L23 23 L24.6 24.4 L17.7 29.6 L17.5 31.2 L17.9 37.3 Z"/></g>
<path d="M10.0 21.2 L14.5 20.5 L14.3 25.6 Z" fill="#fff" stroke="#6E7468" stroke-width="0.6"/>
<path d="M15.4 20.7 L16.9 20.5 L16.1 23.3 Z" fill="#fff" stroke="#6E7468" stroke-width="0.6"/>
<path d="M17.8 21.4 L25.0 19.8 L18.5 25.1 Z" fill="#fff" stroke="#6E7468" stroke-width="0.6"/>
</g>
<g transform="translate(536.4,306.0) scale(1.1647,1.1662)">
<clipPath id="tl99"><rect x="-5" y="-5" width="20.98" height="50"/></clipPath>
<clipPath id="tr99"><rect x="15.98" y="-5" width="50" height="50"/></clipPath>
<g fill="#6E7468" stroke="#6E7468" stroke-width="1.7"><circle cx="4.8" cy="17.8" r="4.8"/><circle cx="7.6" cy="21.6" r="3.8"/><circle cx="8.2" cy="8.2" r="5.0"/><circle cx="15.7" cy="5.0" r="5.0"/><circle cx="24.4" cy="7.6" r="5.0"/><circle cx="29.3" cy="16.5" r="4.6"/><circle cx="27.4" cy="21.2" r="3.8"/><circle cx="12" cy="21.5" r="4"/><circle cx="22" cy="21.5" r="4"/><ellipse cx="17.0" cy="14.5" rx="12.5" ry="9.0"/><path d="M13.6 37.3 L14.0 31.2 L13.6 29.6 L9.0 25.0 L12 23 L15 23 L19 23 L23 23 L24.6 24.4 L17.7 29.6 L17.5 31.2 L17.9 37.3 Z"/></g>
<g fill="#C7E5B5" clip-path="url(#tl99)"><circle cx="4.8" cy="17.8" r="4.8"/><circle cx="7.6" cy="21.6" r="3.8"/><circle cx="8.2" cy="8.2" r="5.0"/><circle cx="15.7" cy="5.0" r="5.0"/><circle cx="24.4" cy="7.6" r="5.0"/><circle cx="29.3" cy="16.5" r="4.6"/><circle cx="27.4" cy="21.2" r="3.8"/><circle cx="12" cy="21.5" r="4"/><circle cx="22" cy="21.5" r="4"/><ellipse cx="17.0" cy="14.5" rx="12.5" ry="9.0"/><path d="M13.6 37.3 L14.0 31.2 L13.6 29.6 L9.0 25.0 L12 23 L15 23 L19 23 L23 23 L24.6 24.4 L17.7 29.6 L17.5 31.2 L17.9 37.3 Z"/></g>
<g fill="#ECC8AE" clip-path="url(#tr99)"><circle cx="4.8" cy="17.8" r="4.8"/><circle cx="7.6" cy="21.6" r="3.8"/><circle cx="8.2" cy="8.2" r="5.0"/><circle cx="15.7" cy="5.0" r="5.0"/><circle cx="24.4" cy="7.6" r="5.0"/><circle cx="29.3" cy="16.5" r="4.6"/><circle cx="27.4" cy="21.2" r="3.8"/><circle cx="12" cy="21.5" r="4"/><circle cx="22" cy="21.5" r="4"/><ellipse cx="17.0" cy="14.5" rx="12.5" ry="9.0"/><path d="M13.6 37.3 L14.0 31.2 L13.6 29.6 L9.0 25.0 L12 23 L15 23 L19 23 L23 23 L24.6 24.4 L17.7 29.6 L17.5 31.2 L17.9 37.3 Z"/></g>
<path d="M10.0 21.2 L14.5 20.5 L14.3 25.6 Z" fill="#fff" stroke="#6E7468" stroke-width="0.6"/>
<path d="M15.4 20.7 L16.9 20.5 L16.1 23.3 Z" fill="#fff" stroke="#6E7468" stroke-width="0.6"/>
<path d="M17.8 21.4 L25.0 19.8 L18.5 25.1 Z" fill="#fff" stroke="#6E7468" stroke-width="0.6"/>
</g>
<path d="M100 14.6 H683.1 V142.4 H100" fill="none" stroke="#262626" stroke-width="1.4"/>
<line x1="100" y1="14" x2="100" y2="142.9" stroke="#7a7a7a" stroke-width="1.6"/>
<line x1="103" y1="279.8" x2="679" y2="279.8" stroke="#808080" stroke-width="1.9"/>
<path d="M103 279.5 H99.6 V151.9 H683.1 V279.5 H679" fill="none" stroke="#2a2a2a" stroke-width="1.3"/>
<rect x="116.4" y="332.6" width="20.2" height="15.4" rx="0.8" fill="#466BB7" stroke="#4466B0" stroke-width="1"/>
<rect x="232.6" y="332.6" width="20.0" height="15.4" rx="0.8" fill="#D49196" stroke="#D8353D" stroke-width="1"/>
<rect x="348.6" y="332.6" width="20.6" height="15.4" rx="0.8" fill="#B6C9E8" stroke="#7E9BD0" stroke-width="1"/>

<g fill="none" stroke="#1e1e1e" stroke-width="1.05" stroke-linejoin="miter">
<path d="M9.1 77.5 H63.9"/>
<path d="M8.1 62.9 C8.6 60.6 12.4 59.6 14.6 61.6 C15.2 62.6 16.6 62.6 18.4 62.8 C20.6 63.4 21.8 65.6 21.1 67.3 C20.6 68.4 20.3 69 20.4 69.6 C20.6 71.2 20 72.6 18.7 73.1 C17.6 73.6 16.6 73.6 16 74.4 C15.6 75.2 15.6 76.4 15.6 77.4"/>
<path d="M14.5 61.6 V53.4 H24.6 V77.5"/>
<path d="M17.4 53.4 V50.3 H21.4"/>
<path d="M21.4 53.4 V45.3 H25.5 V41.1 L29.4 38.4 L33.4 41.3 V45.4 H37.3 V51.6"/>
<path d="M31.3 77.5 V50.9 L38.9 53.1"/>
<path d="M38.9 77.5 V46.6 L48.5 44.4 V77.5"/>
<path d="M45.5 48.9 V63.8"/>
<path d="M49.3 77.5 V54.6 C49.5 53.2 50.5 52.6 51.7 52.6 H55.8 C57.2 52.6 58.5 53.3 58.5 54.8 V67.4"/>
<path d="M53.6 47.8 V52.6"/>
<path d="M58.5 77.4 C58.5 76.2 57.5 75.3 56.6 74.6 C54.6 73.6 53.8 71 54.6 69.6 C55.4 68 57 67.2 58.5 67.4 C59.4 65.6 62.4 65.2 63.6 67.8"/>
</g>
<g stroke="#1e1e1e" stroke-width="1.0">
<path d="M26.6 47.2H30.8M26.6 49.9H30.8M26.6 52.6H30.8M26.6 55.4H30.8M26.6 58.1H30.8M26.6 60.6H30.8M26.6 63.2H30.8M26.6 65.8H30.8M26.6 68.4H30.8M26.6 71.3H30.8"/>
</g>
<g stroke="#555" stroke-width="1.3">
<path d="M33.3 55.7H38.6M33.3 59.6H38.6M33.3 63.3H38.6M33.3 67.3H38.6M33.3 71.4H38.6"/>
</g>
<g fill="#333">
<rect x="51" y="59.2" width="1.4" height="1.4"/><rect x="55.3" y="59.2" width="1.4" height="1.4"/>
<rect x="51" y="63.6" width="1.4" height="1.4"/><rect x="55.3" y="63.6" width="1.4" height="1.4"/>
<rect x="51" y="68.4" width="1.4" height="1.4"/>
</g>


<g fill="none" stroke="#383838" stroke-width="1.1">
<path d="M1 215.7 H65"/>
<path d="M5.8 209 C3.5 209 3 206.8 3.8 205.5 C2.8 203.5 3.6 200.5 5.6 200.2 C5.6 197.6 8 196 10 196.8 C11.8 195.6 14.6 196.6 14.8 199 C16.8 199.6 17.2 202.4 16.2 203.8 C17.2 205.6 16.2 208.4 14 208.4 C13 209.8 11 209.8 10 209 C8.6 209.8 6.8 209.8 5.8 209 Z"/>
<path d="M9.6 203.6 V209.2 M8.4 205.3 L9.6 206.7 L10.8 205.3" stroke-width="1.2"/>
<path d="M8.9 209.4 V215.7 M10.3 209.4 V215.7" stroke="#777" stroke-width="0.8"/>
<path d="M1.1 210.1 C2.2 210.9 3.2 211.2 5 211.1 C6.4 211.3 7.1 212.4 7.1 215.7"/>
<path d="M16.2 194.8 L26.3 184.6 H42.7 L45.2 187.2"/>
<path d="M16.2 194.8 H34.5"/>
<path d="M18.6 194.8 V215.7 M34.5 194.8 V215.7"/>
<path d="M33.3 196 L42.7 187 L53 196.5"/>
<path d="M51.1 195 V211.5"/>
<path d="M46.8 189.6 V185.4 H49.9 V192.4"/>
<rect x="22" y="196.4" width="3.8" height="6.6" rx="0.6"/>
<rect x="27.8" y="196.4" width="3.8" height="6.6" rx="0.6"/>
<rect x="22" y="205.2" width="3.8" height="7.1" rx="0.6"/>
<rect x="27.8" y="205.2" width="3.8" height="7.1" rx="0.6"/>
<path d="M22 199.7 H25.8 M27.8 199.7 H31.6 M22 208.7 H25.8 M27.8 208.7 H31.6"/>
<rect x="39.6" y="196.4" width="6.7" height="6.6"/>
<path d="M42.95 196.4 V203 M39.6 199.7 H46.3"/>
<path d="M39.6 215.7 V206.1 H46.3 V215.7"/>
<path d="M48.1 215.7 C48 213.5 49 212.4 50 212.2 C50.8 211 53 210.8 54.4 211.4 C56.6 211 58.4 212.4 58.5 213.8 C59 214.4 59 215 58.9 215.7"/>
<path d="M55.2 204 L64.8 194.8 M55.2 204.1 H64.8"/>
<path d="M58 204.2 V213.6"/>
<path d="M60.5 215.7 V206.2 H64.8"/>
</g>
<g fill="#1e1e1e"><circle cx="44.7" cy="211.6" r="0.6"/><circle cx="63.1" cy="211.1" r="0.6"/></g>

<text id="tk0a" x="94.30" y="37.9" font-size="18.6" text-anchor="end">0</text>
<text id="tk5a" x="94.30" y="90.0" font-size="18.6" text-anchor="end">-5</text>
<text id="tk10a" x="94.30" y="143.1" font-size="18.6" text-anchor="end">-10</text>
<text id="tk0b" x="94.30" y="174.7" font-size="18.6" text-anchor="end">0</text>
<text id="tk5b" x="94.30" y="227.7" font-size="18.6" text-anchor="end">-5</text>
<text id="tk10b" x="94.30" y="280.6" font-size="18.6" text-anchor="end">-10</text>
<text id="pa" x="104.80" y="34.0" font-size="16.5" text-anchor="start" textLength="20.53" lengthAdjust="spacingAndGlyphs">(a)</text>
<text id="pb" x="103.50" y="172.6" font-size="16.5" text-anchor="start" textLength="22.74" lengthAdjust="spacingAndGlyphs">(b)</text>
<text id="title" x="66.80" y="10.9" font-size="13.3" text-anchor="start" textLength="51.55" lengthAdjust="spacingAndGlyphs">ΔT<tspan font-size="9.6" dy="2.0">air</tspan><tspan dy="-2.0"> (°C)</tspan></text>
<text id="compact" x="6.80" y="94.6" font-size="13.6" text-anchor="start" textLength="54.87" lengthAdjust="spacingAndGlyphs">Compact</text>
<text id="lcz13" x="11.00" y="112.5" font-size="13.6" text-anchor="start" textLength="45.83" lengthAdjust="spacingAndGlyphs">LCZ 1-3</text>
<text id="open" x="20.00" y="230.7" font-size="13.6" text-anchor="start" textLength="34.40" lengthAdjust="spacingAndGlyphs">Open</text>
<text id="lcz46" x="13.80" y="248.6" font-size="13.6" text-anchor="start" textLength="45.82" lengthAdjust="spacingAndGlyphs">LCZ 4-6</text>
<text id="trop" x="146.40" y="296.2" font-size="13.3" text-anchor="start" textLength="48.91" lengthAdjust="spacingAndGlyphs">Tropical</text>
<text id="arid" x="301.20" y="296.2" font-size="13.3" text-anchor="start" textLength="26.53" lengthAdjust="spacingAndGlyphs">Arid</text>
<text id="temp" x="416.20" y="296.2" font-size="13.3" text-anchor="start" textLength="66.26" lengthAdjust="spacingAndGlyphs">Temperate</text>
<text id="cont" x="567.40" y="296.2" font-size="13.3" text-anchor="start" textLength="72.70" lengthAdjust="spacingAndGlyphs">Continental</text>
<text id="lg1" x="139.80" y="346.6" font-size="15.8" text-anchor="start" textLength="52.26" lengthAdjust="spacingAndGlyphs">ΔT<tspan font-size="10.6" dy="2.0">air, max</tspan></text>
<text id="lg2" x="258.20" y="346.6" font-size="15.8" text-anchor="start" textLength="49.78" lengthAdjust="spacingAndGlyphs">ΔT<tspan font-size="10.6" dy="2.0">air, min</tspan></text>
<text id="lg3" x="374.20" y="346.6" font-size="15.8" text-anchor="start" textLength="57.88" lengthAdjust="spacingAndGlyphs">ΔT<tspan font-size="10.6" dy="2.0">air, mean</tspan></text>
<text id="sw1" x="463.00" y="329.9" font-size="11.0" text-anchor="start" textLength="72.60" lengthAdjust="spacingAndGlyphs">% Studies with</text>
<text id="ev" x="459.80" y="344.1" font-size="11.0" text-anchor="start" textLength="78.09" lengthAdjust="spacingAndGlyphs"><tspan font-weight="bold">Evergreen</tspan> trees</text>
<text id="sw2" x="575.90" y="329.4" font-size="11.0" text-anchor="start" textLength="73.61" lengthAdjust="spacingAndGlyphs">% Studies with</text>
<text id="de" x="572.80" y="344.0" font-size="11.0" text-anchor="start" textLength="81.12" lengthAdjust="spacingAndGlyphs"><tspan font-weight="bold">Deciduous</tspan> trees</text>
<text id="pc0" x="132.70" y="131.6" font-size="11.2" text-anchor="start" textLength="27.67" lengthAdjust="spacingAndGlyphs">100%</text>
<text id="pc1" x="184.60" y="131.6" font-size="11.2" text-anchor="start" textLength="14.99" lengthAdjust="spacingAndGlyphs">0%</text>
<text id="pc2" x="300.90" y="132.6" font-size="11.2" text-anchor="start" textLength="21.93" lengthAdjust="spacingAndGlyphs">82%</text>
<text id="pc3" x="335.90" y="132.6" font-size="11.2" text-anchor="start" textLength="21.26" lengthAdjust="spacingAndGlyphs">18%</text>
<text id="pc4" x="436.40" y="131.9" font-size="11.2" text-anchor="start" textLength="21.47" lengthAdjust="spacingAndGlyphs">21%</text>
<text id="pc5" x="469.40" y="131.9" font-size="11.2" text-anchor="start" textLength="20.99" lengthAdjust="spacingAndGlyphs">79%</text>
<text id="pc6" x="580.90" y="132.2" font-size="11.2" text-anchor="start" textLength="22.82" lengthAdjust="spacingAndGlyphs">11%</text>
<text id="pc7" x="616.80" y="132.2" font-size="11.2" text-anchor="start" textLength="21.48" lengthAdjust="spacingAndGlyphs">89%</text>
<text id="pc8" x="137.90" y="268.2" font-size="11.2" text-anchor="start" textLength="20.83" lengthAdjust="spacingAndGlyphs">43%</text>
<text id="pc9" x="184.40" y="268.2" font-size="11.2" text-anchor="start" textLength="20.47" lengthAdjust="spacingAndGlyphs">57%</text>
<text id="pc10" x="300.50" y="269.8" font-size="11.2" text-anchor="start" textLength="21.55" lengthAdjust="spacingAndGlyphs">80%</text>
<text id="pc11" x="341.10" y="269.8" font-size="11.2" text-anchor="start" textLength="20.98" lengthAdjust="spacingAndGlyphs">20%</text>
<text id="pc12" x="433.10" y="269.6" font-size="11.2" text-anchor="start" textLength="21.86" lengthAdjust="spacingAndGlyphs">17%</text>
<text id="pc13" x="469.80" y="269.6" font-size="11.2" text-anchor="start" textLength="21.03" lengthAdjust="spacingAndGlyphs">83%</text>
<text id="pc14" x="579.10" y="270.0" font-size="11.2" text-anchor="start" textLength="21.51" lengthAdjust="spacingAndGlyphs">11%</text>
<text id="pc15" x="614.80" y="270.0" font-size="11.2" text-anchor="start" textLength="21.67" lengthAdjust="spacingAndGlyphs">89%</text>
</svg>
</body></html>
